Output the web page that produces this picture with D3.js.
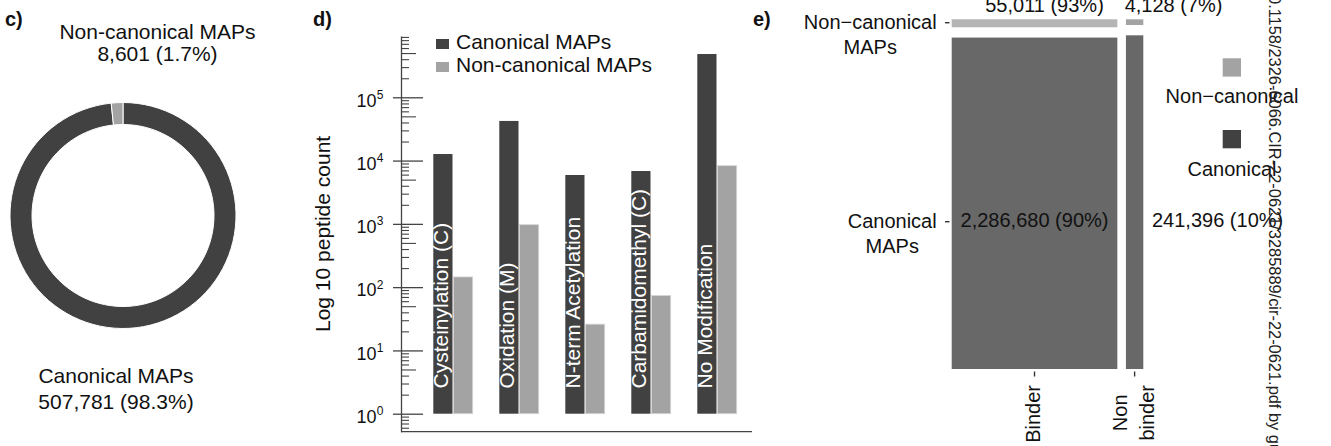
<!DOCTYPE html>
<html>
<head>
<meta charset="utf-8">
<script src="https://cdn.jsdelivr.net/npm/d3@7"></script>
<style>
  html, body { margin: 0; padding: 0; background: #fff; }
  svg { display: block; font-family: "Liberation Sans", Arial, Helvetica, sans-serif; }
</style>
</head>
<body>
<svg id="fig" width="1331" height="446"></svg>
<script>
// ---- Panel c: canonical vs non-canonical MAPs ----
const donutLabels = ["Canonical MAPs", "Non-canonical MAPs"];
const donutCounts = [507781, 8601];

// ---- Panel d: peptide counts per modification (log scale) ----
const modCategories = ["Cysteinylation (C)", "Oxidation (M)", "N-term Acetylation", "Carbamidomethyl (C)", "No Modification"];
const canonicalCounts = [12700, 42300, 5920, 6840, 483000];
const nonCanonicalCounts = [145, 970, 26, 74, 8300];
const seriesNames = ["Canonical MAPs", "Non-canonical MAPs"];
const logTickExponents = [0, 1, 2, 3, 4, 5];
const yAxisTitle = "Log 10 peptide count";

// ---- Panel e: binder status mosaic ----
const binderGroups = [["Binder"], ["Non", "binder"]];
const mapRows = [["Non\u2212canonical", "MAPs"], ["Canonical", "MAPs"]];
const binderNonCanonical = [55011, 4128];
const binderCanonical = [2286680, 241396];
const mosaicLegend = ["Non\u2212canonical", "Canonical"];

// ---- styling ----
const DARK = "#414141", LIGHT = "#a3a3a3";
const MOSAIC_NC = ["#b4b4b4", "#a3a3a3"], MOSAIC_C = "#686868";
const AXIS = "#444";
const F = 21;

const svg = d3.select("#fig");
const fmtInt = d3.format(",");

function panelTag(x, y, t) {
  svg.append("text").attr("x", x).attr("y", y)
    .attr("font-size", 20).attr("font-weight", "bold").attr("fill", "#111").text(t);
}
function lines(g, x, y0, dy, arr, size, anchor) {
  arr.forEach((t, i) => g.append("text").attr("x", x).attr("y", y0 + i * dy)
    .attr("font-size", size).attr("text-anchor", anchor || "middle").attr("fill", "#111").text(t));
}

// ================= Panel c =================
panelTag(5, 26, "c)");
const gC = svg.append("g");
const totalMaps = d3.sum(donutCounts);
const pctC = d3.format(".1%");
const pie = d3.pie().sort(null).value(d => d);
const arc = d3.arc().innerRadius(91).outerRadius(113);
gC.append("g").attr("transform", "translate(123,215.5)")
  .selectAll("path").data(pie(donutCounts)).join("path")
  .attr("d", arc)
  .attr("fill", (d, i) => [DARK, LIGHT][i])
  .attr("stroke", "#fff").attr("stroke-width", 1);
lines(gC, 157.5, 39, 22, [donutLabels[1], `${fmtInt(donutCounts[1])} (${pctC(donutCounts[1] / totalMaps)})`], F);
lines(gC, 116, 383.3, 26, [donutLabels[0], `${fmtInt(donutCounts[0])} (${pctC(donutCounts[0] / totalMaps)})`], F);

// ================= Panel d =================
panelTag(313, 26, "d)");
const gD = svg.append("g");
const yBase = d3.scaleLog().domain([1, 1e5]).range([413.7, 97.3]);
const y = yBase.copy().domain([yBase.invert(431.7), yBase.invert(36)]).range([431.7, 36]);
const x = d3.scaleBand().domain(modCategories).range([420, 750]).padding(0);
const xs = d3.scaleBand().domain(seriesNames).range([-19.7, 19.7]).paddingInner(0.05);

const rows = modCategories.map((c, i) => ({ cat: c, vals: [canonicalCounts[i], nonCanonicalCounts[i]] }));
const grp = gD.selectAll("g.grp").data(rows).join("g").attr("class", "grp")
  .attr("transform", d => `translate(${x(d.cat) + x.bandwidth() / 2},0)`);
grp.selectAll("rect").data(d => d.vals.map((v, k) => ({ v, s: seriesNames[k], k })))
  .join("rect")
  .attr("x", d => xs(d.s)).attr("width", xs.bandwidth())
  .attr("y", d => y(d.v)).attr("height", d => y(1) - y(d.v))
  .attr("fill", d => d.k === 0 ? DARK : LIGHT)
  .attr("stroke", d => d.k === 0 ? "none" : "#d6d6d6").attr("stroke-width", 0.8);
grp.append("text")
  .attr("transform", d => `translate(${xs(seriesNames[0]) + xs.bandwidth() / 2},388.5) rotate(-90)`)
  .attr("dy", "0.25em").attr("font-size", F).attr("fill", "#fff").attr("text-anchor", "start")
  .text(d => d.cat);

// y axis: major ticks cross the axis line, minor ticks point inward
const axisG = gD.append("g").attr("transform", "translate(401,0)")
  .call(d3.axisLeft(y).tickValues(logTickExponents.map(e => Math.pow(10, e))).tickSizeOuter(0).tickFormat(""));
axisG.attr("font-size", null).attr("font-family", null);
axisG.select(".domain").attr("stroke", AXIS).attr("stroke-width", 1.3);
axisG.selectAll(".tick line").attr("x1", 22).attr("x2", -8).attr("stroke", AXIS).attr("stroke-width", 1.3);
axisG.selectAll(".tick text").each(function (d) {
  const t = d3.select(this).attr("x", -17.7).attr("y", 8.7).attr("dy", null)
    .attr("font-size", 18).attr("fill", "#111").attr("text-anchor", "end");
  t.append("tspan").text("10");
  t.append("tspan").attr("font-size", 12).attr("dy", -7.7).text(Math.round(Math.log10(d)));
});
const [d0, d1] = y.domain();
const minorVals = [];
for (let e = -1; e <= 6; e++) for (let m = 2; m <= 9; m++) {
  const v = m * Math.pow(10, e);
  if (v >= d0 && v <= d1) minorVals.push(v);
}
[[minorVals.filter(v => Math.round(v / Math.pow(10, Math.floor(Math.log10(v) + 1e-9))) === 5), 15],
 [minorVals.filter(v => Math.round(v / Math.pow(10, Math.floor(Math.log10(v) + 1e-9))) !== 5), 8]]
  .forEach(([vals, len]) => {
    const g = gD.append("g").attr("transform", "translate(401,0)")
      .call(d3.axisRight(y).tickValues(vals).tickSize(len).tickFormat(""));
    g.select(".domain").remove();
    g.selectAll(".tick line").attr("stroke", AXIS).attr("stroke-width", 1.1);
  });
gD.append("line").attr("x1", 401).attr("x2", 752).attr("y1", y.range()[0]).attr("y2", y.range()[0])
  .attr("stroke", AXIS).attr("stroke-width", 1.3);
gD.append("text").attr("transform", "translate(330,332) rotate(-90)")
  .attr("font-size", F).attr("fill", "#111").attr("text-anchor", "start").text(yAxisTitle);

// legend
seriesNames.forEach((s, i) => {
  gD.append("rect").attr("x", 436).attr("y", 39 + i * 23).attr("width", 13).attr("height", 10)
    .attr("fill", i === 0 ? DARK : LIGHT);
  gD.append("text").attr("x", 456).attr("y", 49 + i * 22.7).attr("font-size", F).attr("fill", "#111").text(s);
});

// ================= Panel e =================
panelTag(753, 26, "e)");
const gE = svg.append("g");
const colTotals = binderNonCanonical.map((v, i) => v + binderCanonical[i]);
const gapX = 8.6, gapY = 10.3;
const xM = d3.scaleLinear().domain([0, d3.sum(colTotals)]).range([951.7, 1143.3 - gapX]);
const yM = d3.scaleLinear().domain([0, 1]).range([19.3, 369 - gapY]);
const pctE = d3.format(".0%");
const rowAnchorY = [22.7, 221.7];
const countShift = [[10, 39], [0, 83]];

const cols = colTotals.map((tot, j) => {
  const x0 = xM(d3.sum(colTotals.slice(0, j))) + j * gapX;
  const w = xM(tot) - xM(0);
  const f = binderNonCanonical[j] / tot;
  return { j, x0, w, cx: x0 + w / 2, f };
});
cols.forEach(c => {
  gE.append("rect").attr("x", c.x0).attr("width", c.w)
    .attr("y", yM(0)).attr("height", yM(c.f) - yM(0)).attr("fill", MOSAIC_NC[c.j]);
  gE.append("rect").attr("x", c.x0).attr("width", c.w)
    .attr("y", yM(c.f) + gapY).attr("height", yM(1) - yM(c.f)).attr("fill", MOSAIC_C);
});
// count labels with row-wise share
const ncTotal = d3.sum(binderNonCanonical), cTotal = d3.sum(binderCanonical);
cols.forEach(c => {
  gE.append("text").attr("x", c.cx + countShift[0][c.j]).attr("y", 11.5)
    .attr("font-size", 20).attr("text-anchor", "middle").attr("fill", "#111")
    .text(`${fmtInt(binderNonCanonical[c.j])} (${pctE(binderNonCanonical[c.j] / ncTotal)})`);
  gE.append("text").attr("x", c.cx + countShift[1][c.j]).attr("y", rowAnchorY[1] + 5.6)
    .attr("font-size", 20).attr("text-anchor", "middle").attr("fill", "#111")
    .text(`${fmtInt(binderCanonical[c.j])} (${pctE(binderCanonical[c.j] / cTotal)})`);
});
// y axis ticks and row labels (right-justified block, lines centred)
mapRows.forEach((ls, r) => {
  gE.append("line").attr("x1", 945).attr("x2", 949.5).attr("y1", rowAnchorY[r]).attr("y2", rowAnchorY[r])
    .attr("stroke", "#333").attr("stroke-width", 1.4);
  const ts = ls.map((t, i) => gE.append("text").attr("y", rowAnchorY[r] + 6 + i * 25)
    .attr("font-size", 20).attr("text-anchor", "middle").attr("fill", "#111").text(t));
  const wMax = d3.max(ts, t => t.node().getComputedTextLength());
  ts.forEach(t => t.attr("x", 936.7 - wMax / 2));
});
// x axis ticks and column labels (rotated)
cols.forEach(c => {
  gE.append("line").attr("x1", c.cx).attr("x2", c.cx).attr("y1", 371.5).attr("y2", 376.5)
    .attr("stroke", "#333").attr("stroke-width", 1.4);
  const ls = binderGroups[c.j];
  const n = ls.length;
  const ts = ls.map((t, i) => gE.append("text")
    .attr("font-size", 20).attr("text-anchor", "middle").attr("fill", "#111").text(t));
  const lMax = d3.max(ts, t => t.node().getComputedTextLength());
  ts.forEach((t, i) => {
    const bx = c.cx + 5.6 + (i - (n - 1) / 2) * 26.7;
    t.attr("transform", `translate(${bx},${385 + lMax / 2}) rotate(-90)`);
  });
});
// legend
mosaicLegend.forEach((s, i) => {
  gE.append("rect").attr("x", 1222.7).attr("y", 58.3 + i * 71.7).attr("width", 18.3).attr("height", 18.3)
    .attr("fill", i === 0 ? LIGHT : DARK);
  gE.append("text").attr("x", 1232).attr("y", 103.3 + i * 72.7).attr("font-size", 20)
    .attr("text-anchor", "middle").attr("fill", "#111").text(s);
});

// download stamp running down the right edge
svg.append("text").attr("transform", "translate(1268.6,-14.1) rotate(90)")
  .attr("font-size", 16.4).attr("fill", "#222").attr("text-anchor", "start")
  .text("10.1158/2326-6066.CIR-22-0621/3285889/cir-22-0621.pdf by guest");
</script>
</body>
</html>
